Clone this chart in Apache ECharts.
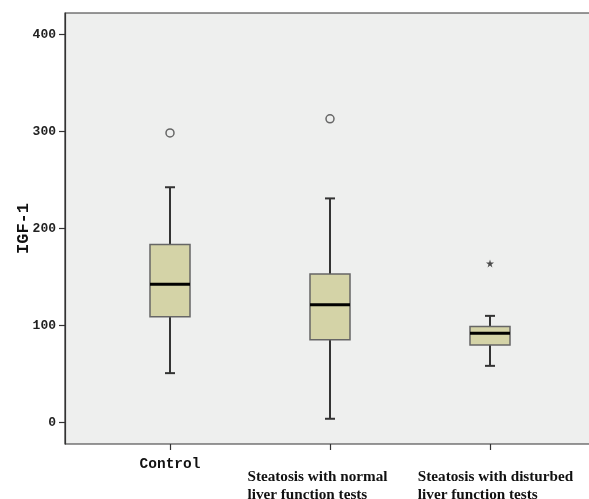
<!DOCTYPE html>
<html><head><meta charset="utf-8">
<script src="https://cdn.jsdelivr.net/npm/echarts@6/dist/echarts.min.js"></script>
<style>html,body{margin:0;padding:0;background:#fff}#c{width:589px;height:499px}</style>
</head><body><div id="c"></div>
<script>
// ---- data ----
var categories = ['Control', 'Steatosis with normal\nliver function tests', 'Steatosis with disturbed\nliver function tests'];
// [min, Q1, median, Q3, max]
var boxMin    = [51, 4, 58.5];
var boxQ1     = [109, 85.5, 80];
var boxMedian = [142.5, 121.5, 92];
var boxQ3     = [183.5, 153, 99];
var boxMax    = [242.5, 231, 110];
var outliers  = [[0, 298.5], [1, 313]];   // open circles
var extremes  = [[2, 164]];               // stars
var yTicks    = [0, 100, 200, 300, 400];
var yName     = 'IGF-1';

// ---- styles ----
var labelPads = [[0, 0, 0, 0], [12, 25, 0, 0], [12, 0, 0, 11]];

var boxData = categories.map(function (c, i) {
  return [i, boxMin[i], boxQ1[i], boxMedian[i], boxQ3[i], boxMax[i]];
});

var chart = echarts.init(document.getElementById('c'));
var YMIN = -22, YMAX = 422;
chart.setOption({
  animation: false,
  grid: [
    {left: 65, top: 13, width: 530, height: 431, show: true, backgroundColor: '#eeefee', borderColor: '#333', borderWidth: 1.2, outerBoundsMode: 'none', containLabel: false},
    {left: 90, top: 13, width: 480, height: 431, outerBoundsMode: 'none', containLabel: false}
  ],
  xAxis: [
    {gridIndex: 0, type: 'value', show: false, min: 0, max: 1},
    {gridIndex: 1, type: 'category',
     data: categories.map(function (c, i) { return {value: c, textStyle: {padding: labelPads[i]}}; }),
     axisLine: {show: false, onZero: false},
     axisTick: {show: true, alignWithLabel: true, length: 6, lineStyle: {color: '#333', width: 1.2}},
     axisLabel: {interval: 0, margin: 12, color: '#111',
       formatter: function (v, i) { return i === 0 ? '{c|' + v + '}' : '{s|' + v + '}'; },
       rich: {
         c: {fontFamily: 'Liberation Mono', fontWeight: 'bold', fontSize: 14.5, color: '#111', lineHeight: 17},
         s: {fontFamily: 'Liberation Serif', fontWeight: 'bold', fontSize: 15.2, color: '#111', lineHeight: 18, align: 'left'}
       }
     },
     splitLine: {show: false}
    }
  ],
  yAxis: [
    {gridIndex: 0, type: 'value', min: YMIN, max: YMAX,
     axisLine: {show: true, onZero: false, lineStyle: {color: '#333', width: 1.2}},
     axisTick: {show: true, customValues: yTicks, length: 6, lineStyle: {color: '#333', width: 1.2}},
     axisLabel: {customValues: yTicks, margin: 9, fontFamily: 'Liberation Mono', fontWeight: 'bold', fontSize: 13, color: '#222'},
     splitLine: {show: false},
     name: yName, nameLocation: 'middle', nameGap: 33, nameMoveOverlap: false,
     nameTextStyle: {fontFamily: 'Liberation Mono', fontWeight: 'bold', fontSize: 17, color: '#111'}
    },
    {gridIndex: 1, type: 'value', min: YMIN, max: YMAX, show: false, splitLine: {show: false}}
  ],
  series: [
    {type: 'custom', xAxisIndex: 1, yAxisIndex: 1, data: boxData,
     encode: {x: 0, y: [1, 2, 3, 4, 5]},
     renderItem: function (params, api) {
       var x = api.value(0);
       var pMin = api.coord([x, api.value(1)]);
       var pQ1 = api.coord([x, api.value(2)]);
       var pMed = api.coord([x, api.value(3)]);
       var pQ3 = api.coord([x, api.value(4)]);
       var pMax = api.coord([x, api.value(5)]);
       var cx = pMin[0];
       var hw = 20, cw = 5;
       var wStyle = {stroke: '#333', lineWidth: 2};
       return {type: 'group', children: [
         {type: 'line', shape: {x1: cx, y1: pQ3[1], x2: cx, y2: pMax[1]}, style: wStyle},
         {type: 'line', shape: {x1: cx, y1: pQ1[1], x2: cx, y2: pMin[1]}, style: wStyle},
         {type: 'line', shape: {x1: cx - cw, y1: pMax[1], x2: cx + cw, y2: pMax[1]}, style: wStyle},
         {type: 'line', shape: {x1: cx - cw, y1: pMin[1], x2: cx + cw, y2: pMin[1]}, style: wStyle},
         {type: 'rect', shape: {x: cx - hw, y: pQ3[1], width: 2 * hw, height: pQ1[1] - pQ3[1]},
          style: {fill: '#d4d3a7', stroke: '#666', lineWidth: 1.5}},
         {type: 'line', shape: {x1: cx - hw, y1: pMed[1], x2: cx + hw, y2: pMed[1]}, style: {stroke: '#000', lineWidth: 3}}
       ]};
     }
    },
    {type: 'scatter', xAxisIndex: 1, yAxisIndex: 1, data: outliers, symbol: 'circle', symbolSize: 8,
     itemStyle: {color: 'rgba(0,0,0,0)', borderColor: '#444', borderWidth: 1.5}},
    {type: 'scatter', xAxisIndex: 1, yAxisIndex: 1, data: extremes, symbolSize: 8,
     symbol: 'path://M50,0 L61,35 L98,35 L68,57 L79,91 L50,70 L21,91 L32,57 L2,35 L39,35 Z',
     itemStyle: {color: '#222'}}
  ]
});
</script></body></html>
